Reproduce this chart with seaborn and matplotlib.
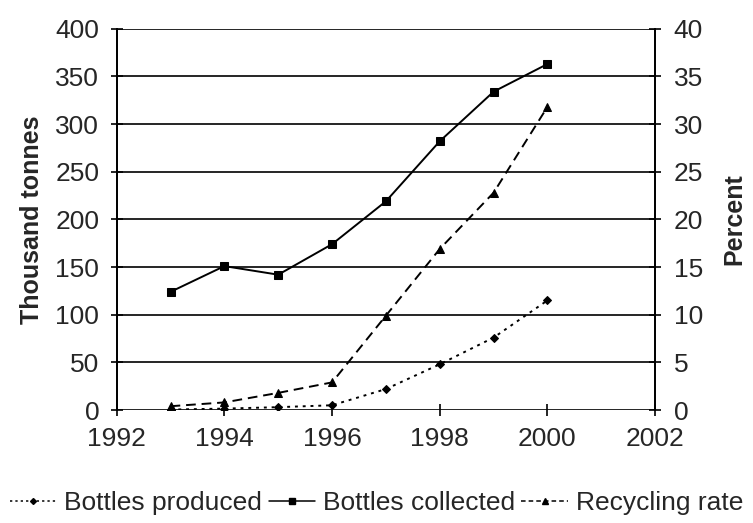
import matplotlib
matplotlib.use("Agg")
import matplotlib.pyplot as plt
import seaborn as sns
import pandas as pd
from matplotlib.lines import Line2D

years = [1993, 1994, 1995, 1996, 1997, 1998, 1999, 2000]
bottles_produced = [0.5, 1.5, 3, 5, 22, 48, 76, 115]
bottles_collected = [124, 151, 142, 174, 219, 282, 334, 363]
recycling_rate = [0.4, 0.8, 1.8, 2.9, 9.9, 16.9, 22.8, 31.8]

x_ticks = [1992, 1994, 1996, 1998, 2000, 2002]
left_ticks = [0, 50, 100, 150, 200, 250, 300, 350, 400]
right_ticks = [0, 5, 10, 15, 20, 25, 30, 35, 40]

sns.set_theme(style="white")
plt.rcParams["font.family"] = ["Liberation Sans", "DejaVu Sans"]

fig = plt.figure(figsize=(7.53, 5.23), dpi=100)
ax = fig.add_axes([0.155, 0.216, 0.715, 0.729])
ax2 = ax.twinx()

df_prod = pd.DataFrame({"year": years, "value": bottles_produced})
df_coll = pd.DataFrame({"year": years, "value": bottles_collected})
df_rate = pd.DataFrame({"year": years, "value": recycling_rate})

sns.lineplot(data=df_prod, x="year", y="value", ax=ax, color="black",
             linestyle=(0, (1.5, 2.5)), linewidth=1.4, marker="D",
             markersize=4.5, markeredgecolor="black")
sns.lineplot(data=df_coll, x="year", y="value", ax=ax, color="black",
             linestyle="-", linewidth=1.4, marker="s",
             markersize=5.5, markeredgecolor="black")
sns.lineplot(data=df_rate, x="year", y="value", ax=ax2, color="black",
             linestyle=(0, (5, 3)), linewidth=1.4, marker="^",
             markersize=5.5, markeredgecolor="black")

for a in (ax, ax2):
    a.set_xlim(1992, 2002)
    a.set_xlabel("")
    for s in ("top", "bottom"):
        a.spines[s].set_visible(False)
ax.set_ylim(0, 400)
ax2.set_ylim(0, 40)
ax.set_xticks(x_ticks)
ax.set_yticks(left_ticks)
ax2.set_yticks(right_ticks)

ax.yaxis.grid(True, color="black", linewidth=1.2)
ax.set_axisbelow(True)
ax2.grid(False)
for a in (ax, ax2):
    for s in ("left", "right"):
        a.spines[s].set_color("black")
        a.spines[s].set_linewidth(1.3)

ax.tick_params(axis="both", which="major", labelsize=19, direction="inout",
               length=9, width=1.2, color="black", left=True, bottom=True)
ax.tick_params(axis="y", pad=8)
ax.tick_params(axis="x", pad=8)
ax2.tick_params(axis="y", labelsize=19, direction="inout", length=9,
                width=1.2, color="black", right=True, pad=9)

ax.set_ylabel("Thousand tonnes", fontsize=18, fontweight="bold", labelpad=8)
ax2.set_ylabel("Percent", fontsize=18, fontweight="bold", labelpad=14)

handles = [
    Line2D([], [], color="black", linestyle=(0, (1.5, 2)), linewidth=1.1,
           marker="D", markersize=3),
    Line2D([], [], color="black", linestyle="-", linewidth=1.1,
           marker="s", markersize=4),
    Line2D([], [], color="black", linestyle=(0, (3, 2)), linewidth=1.1,
           marker="^", markersize=4),
]
labels = ["Bottles produced", "Bottles collected", "Recycling rate"]
fig.legend(handles, labels, loc="lower center", bbox_to_anchor=(0.5, -0.02),
           ncol=3, frameon=False, fontsize=19, handlelength=1.75,
           handletextpad=0.3, columnspacing=0.25, borderpad=0.2)

fig.savefig("out.png", dpi=100)
